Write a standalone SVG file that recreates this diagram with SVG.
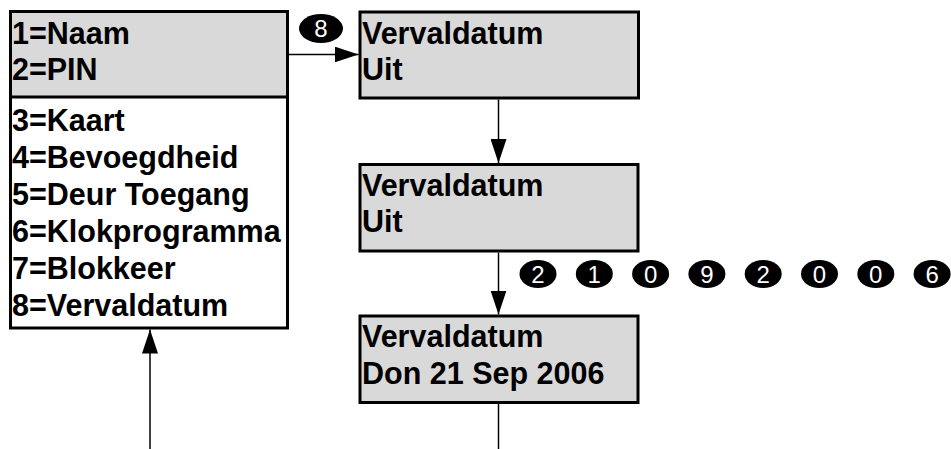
<svg xmlns="http://www.w3.org/2000/svg" width="951" height="449" viewBox="0 0 951 449">
<defs>
<style>
.box{stroke:#000;stroke-width:3}
.gray{fill:#d9d9d9}
.t{font-family:"Liberation Sans",Arial,sans-serif;font-weight:bold;font-size:30.5px;fill:#000}
.conn{stroke:#000;stroke-width:1.5;fill:none}
.key{fill:#000}
.kt{font-family:"Liberation Sans",Arial,sans-serif;font-size:24px;fill:#fff;text-anchor:middle}
</style>
<marker id="ah" markerWidth="24" markerHeight="16" refX="24" refY="8" orient="auto" markerUnits="userSpaceOnUse">
<path d="M0,0 L24,8 L0,16 Z" fill="#000"/>
</marker>
</defs>
<rect width="951" height="449" fill="#fff"/>
<g id="menu">
<rect class="box" x="10.5" y="11.5" width="277" height="316.5" fill="#fff"/>
<rect class="gray" x="12" y="13" width="274" height="83"/>
<line x1="10.5" y1="97" x2="287.5" y2="97" stroke="#000" stroke-width="3"/>
<text class="t" x="12" y="44">1=Naam</text>
<text class="t" x="12" y="80">2=PIN</text>
<text class="t" x="12" y="131">3=Kaart</text>
<text class="t" x="12" y="168">4=Bevoegdheid</text>
<text class="t" x="12" y="205">5=Deur Toegang</text>
<text class="t" x="12" y="242">6=Klokprogramma</text>
<text class="t" x="12" y="279">7=Blokkeer</text>
<text class="t" x="12" y="316">8=Vervaldatum</text>
</g>
<g id="screen1">
<rect class="box gray" x="360" y="12" width="278.5" height="86"/>
<text class="t" x="362" y="44">Vervaldatum</text>
<text class="t" x="362" y="80">Uit</text>
</g>
<g id="screen2">
<rect class="box gray" x="360" y="164.5" width="278" height="86.5"/>
<text class="t" x="362" y="196">Vervaldatum</text>
<text class="t" x="362" y="232">Uit</text>
</g>
<g id="screen3">
<rect class="box gray" x="360" y="316" width="278" height="86.5"/>
<text class="t" x="362" y="347">Vervaldatum</text>
<text class="t" x="362" y="384">Don 21 Sep 2006</text>
</g>
<g id="keys">
<ellipse class="key" cx="321" cy="28.5" rx="22" ry="14.5"/>
<text class="kt" x="321" y="37">8</text>
<ellipse class="key" cx="538" cy="274" rx="18.5" ry="14"/>
<text class="kt" x="538" y="282.5">2</text>
<ellipse class="key" cx="594.3" cy="274" rx="18.5" ry="14"/>
<text class="kt" x="594.3" y="282.5">1</text>
<ellipse class="key" cx="650.6" cy="274" rx="18.5" ry="14"/>
<text class="kt" x="650.6" y="282.5">0</text>
<ellipse class="key" cx="706.9" cy="274" rx="18.5" ry="14"/>
<text class="kt" x="706.9" y="282.5">9</text>
<ellipse class="key" cx="763.2" cy="274" rx="18.5" ry="14"/>
<text class="kt" x="763.2" y="282.5">2</text>
<ellipse class="key" cx="819.5" cy="274" rx="18.5" ry="14"/>
<text class="kt" x="819.5" y="282.5">0</text>
<ellipse class="key" cx="875.8" cy="274" rx="18.5" ry="14"/>
<text class="kt" x="875.8" y="282.5">0</text>
<ellipse class="key" cx="932.1" cy="274" rx="18.5" ry="14"/>
<text class="kt" x="932.1" y="282.5">6</text>
</g>
<g id="connectors">
<line class="conn" x1="289" y1="54.5" x2="358.5" y2="54.5" marker-end="url(#ah)"/>
<line class="conn" x1="498.5" y1="99.5" x2="498.5" y2="163" marker-end="url(#ah)"/>
<line class="conn" x1="498.5" y1="252.5" x2="498.5" y2="314.5" marker-end="url(#ah)"/>
<line class="conn" x1="498.5" y1="404" x2="498.5" y2="449"/>
<line class="conn" x1="150" y1="449" x2="150" y2="329.5" marker-end="url(#ah)"/>
</g>
</svg>
